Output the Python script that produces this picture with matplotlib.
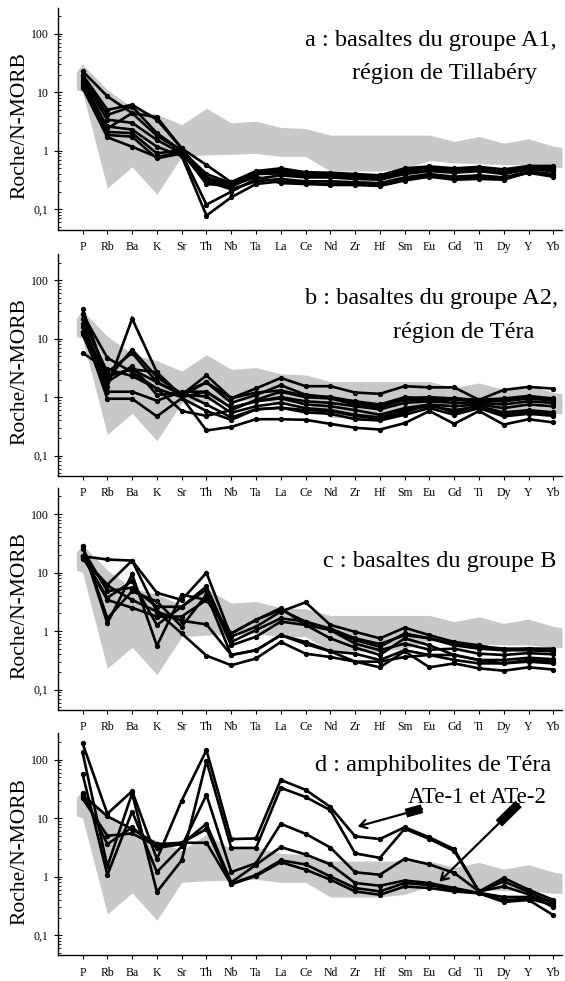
import numpy as np
import matplotlib.pyplot as plt
from matplotlib.ticker import FixedLocator, LogLocator, NullFormatter

plt.rcParams['font.family'] = ['Liberation Serif', 'DejaVu Serif']

elements = ["P", "Rb", "Ba", "K", "Sr", "Th", "Nb", "Ta", "La", "Ce",
            "Nd", "Zr", "Hf", "Sm", "Eu", "Gd", "Ti", "Dy", "Y", "Yb"]

# grey reference field, same on every panel
field_upper = [30, 11, 5.5, 4.2, 2.8, 5.3, 3.0, 3.2, 2.5, 2.4,
               1.85, 1.85, 1.85, 1.85, 1.85, 1.45, 1.75, 1.35, 1.6, 1.2]
field_lower = [10, 0.23, 0.53, 0.18, 0.8, 0.85, 0.87, 0.9, 0.8, 0.8,
               0.45, 0.45, 0.45, 0.5, 0.68, 0.62, 0.6, 0.58, 0.58, 0.52]

# a : groupe A1, Tillabéry
group_a1 = [
    [23, 8.5, 4.4, 3.75, 1.1, 0.57, 0.29, 0.45, 0.5, 0.43, 0.42, 0.4, 0.38, 0.5, 0.54, 0.5, 0.53, 0.48, 0.55, 0.55],
    [20, 5.0, 6.1, 3.4, 1.1, 0.33, 0.24, 0.41, 0.46, 0.42, 0.4, 0.38, 0.37, 0.47, 0.5, 0.48, 0.5, 0.47, 0.53, 0.52],
    [18, 4.1, 5.7, 2.0, 1.0, 0.29, 0.29, 0.43, 0.45, 0.4, 0.38, 0.37, 0.36, 0.45, 0.5, 0.47, 0.5, 0.45, 0.52, 0.5],
    [16, 3.4, 3.0, 1.53, 0.9, 0.12, 0.2, 0.33, 0.38, 0.35, 0.35, 0.33, 0.32, 0.4, 0.45, 0.42, 0.45, 0.4, 0.48, 0.45],
    [14, 2.6, 2.3, 1.17, 0.81, 0.078, 0.16, 0.27, 0.3, 0.28, 0.27, 0.27, 0.26, 0.33, 0.37, 0.33, 0.36, 0.33, 0.42, 0.36],
    [13, 2.1, 2.0, 0.9, 1.03, 0.35, 0.27, 0.4, 0.41, 0.37, 0.36, 0.34, 0.33, 0.42, 0.46, 0.44, 0.46, 0.42, 0.5, 0.47],
    [12.5, 1.86, 1.74, 0.74, 0.9, 0.3, 0.22, 0.3, 0.33, 0.3, 0.3, 0.29, 0.28, 0.35, 0.4, 0.36, 0.38, 0.35, 0.44, 0.4],
    [12, 1.7, 1.17, 0.78, 0.95, 0.27, 0.25, 0.36, 0.28, 0.27, 0.26, 0.26, 0.25, 0.31, 0.36, 0.32, 0.33, 0.32, 0.43, 0.38],
    [15, 2.4, 4.4, 1.8, 1.0, 0.4, 0.28, 0.42, 0.43, 0.4, 0.39, 0.36, 0.35, 0.44, 0.48, 0.45, 0.48, 0.44, 0.5, 0.48],
]

# b : groupe A2, Téra
group_a2 = [
    [26, 2.3, 3.0, 1.8, 1.1, 2.35, 0.96, 1.41, 2.13, 1.54, 1.54, 1.2, 1.14, 1.54, 1.47, 1.47, 0.9, 1.33, 1.5, 1.4],
    [5.7, 3.0, 2.3, 1.4, 1.0, 0.27, 0.31, 0.42, 0.42, 0.41, 0.35, 0.3, 0.28, 0.36, 0.58, 0.35, 0.58, 0.34, 0.42, 0.37],
    [13, 1.5, 22, 2.66, 1.0, 1.24, 0.66, 0.85, 0.96, 0.75, 0.7, 0.6, 0.5, 0.65, 0.75, 0.7, 0.75, 0.65, 0.75, 0.7],
    [31.8, 2.07, 6.5, 2.2, 1.15, 1.8, 0.8, 1.09, 1.6, 1.1, 1.0, 0.85, 0.75, 1.0, 0.95, 0.95, 0.9, 0.95, 1.05, 0.95],
    [21.7, 2.66, 5.7, 1.8, 1.1, 1.03, 0.54, 0.7, 0.8, 0.65, 0.6, 0.5, 0.45, 0.6, 0.7, 0.6, 0.7, 0.55, 0.6, 0.55],
    [18, 1.82, 3.4, 1.09, 1.2, 0.75, 0.45, 0.62, 0.66, 0.55, 0.52, 0.42, 0.4, 0.5, 0.65, 0.5, 0.65, 0.47, 0.52, 0.48],
    [15.8, 0.94, 0.94, 0.47, 0.96, 0.58, 0.41, 0.62, 0.66, 0.6, 0.58, 0.48, 0.42, 0.55, 0.75, 0.55, 0.7, 0.5, 0.55, 0.5],
    [12, 1.24, 1.24, 0.87, 1.24, 1.24, 0.66, 0.85, 1.0, 0.85, 0.8, 0.7, 0.62, 0.8, 0.85, 0.8, 0.8, 0.75, 0.85, 0.8],
    [26.3, 4.7, 2.66, 1.4, 0.58, 0.48, 0.6, 0.9, 1.24, 1.0, 0.95, 0.75, 0.68, 0.9, 0.9, 0.9, 0.85, 0.85, 0.95, 0.88],
    [13, 2.3, 3.0, 2.66, 1.05, 1.8, 0.96, 1.2, 1.3, 1.05, 1.0, 0.8, 0.72, 0.95, 1.0, 0.95, 0.88, 0.9, 1.0, 0.9],
]

# c : groupe B
group_b = [
    [19, 16.7, 16, 2.15, 1.5, 1.3, 0.39, 0.47, 0.85, 0.6, 0.45, 0.3, 0.24, 0.45, 0.24, 0.28, 0.23, 0.21, 0.24, 0.22],
    [28.5, 1.36, 9.3, 0.56, 4.2, 3.4, 0.91, 1.55, 2.46, 1.27, 0.75, 0.52, 0.39, 0.75, 0.57, 0.39, 0.32, 0.28, 0.32, 0.3],
    [17.9, 6.2, 16, 4.5, 3.4, 9.9, 0.8, 1.19, 2.15, 3.1, 1.27, 0.97, 0.75, 1.14, 0.85, 0.65, 0.57, 0.47, 0.5, 0.5],
    [25, 4.8, 5.5, 2.6, 2.6, 5.8, 0.65, 1.04, 1.65, 1.45, 1.04, 0.7, 0.54, 0.91, 0.75, 0.57, 0.5, 0.47, 0.47, 0.45],
    [19, 3.7, 7.1, 1.27, 2.6, 5.1, 0.57, 0.8, 1.45, 1.27, 1.04, 0.61, 0.47, 0.61, 0.48, 0.5, 0.41, 0.39, 0.42, 0.4],
    [28.5, 1.65, 4.8, 3.2, 1.19, 4.2, 0.39, 0.47, 0.85, 0.65, 0.45, 0.41, 0.32, 0.47, 0.39, 0.39, 0.32, 0.32, 0.35, 0.33],
    [19, 3.4, 2.5, 1.77, 1.77, 3.4, 0.91, 1.55, 2.3, 1.45, 1.1, 0.75, 0.6, 0.85, 0.75, 0.6, 0.55, 0.5, 0.5, 0.48],
    [17, 6.0, 3.4, 2.15, 0.91, 0.38, 0.26, 0.34, 0.65, 0.41, 0.36, 0.3, 0.3, 0.36, 0.39, 0.32, 0.28, 0.28, 0.3, 0.28],
]

# d : amphibolites de Téra (the first two are ATe-1 and ATe-2)
amphibolites = [
    [190, 11.9, 29, 2.0, 20, 145, 4.4, 4.5, 45, 30.5, 15.6, 4.9, 4.4, 7.0, 4.7, 2.95, 0.56, 0.95, 0.6, 0.4],
    [133, 1.5, 26.5, 0.55, 1.9, 95, 3.1, 3.1, 33, 23, 13.7, 2.5, 2.1, 6.6, 4.4, 2.75, 0.56, 0.83, 0.55, 0.35],
    [57, 1.07, 13, 1.2, 3.3, 25, 1.2, 1.7, 8, 5.4, 3.15, 1.19, 1.08, 2.03, 1.62, 1.16, 0.56, 0.68, 0.5, 0.3],
    [26.5, 3.6, 7, 3.1, 3.6, 8, 0.8, 1.6, 3.2, 2.4, 1.62, 0.78, 0.7, 0.86, 0.78, 0.64, 0.53, 0.45, 0.45, 0.38],
    [24.8, 10.8, 6.5, 3.6, 3.8, 6.5, 0.76, 1.07, 1.9, 1.62, 1.01, 0.64, 0.56, 0.78, 0.72, 0.6, 0.52, 0.37, 0.4, 0.22],
    [21.7, 5, 5.5, 3.3, 3.8, 3.8, 0.74, 1.03, 1.77, 1.32, 0.89, 0.56, 0.49, 0.68, 0.64, 0.56, 0.52, 0.4, 0.42, 0.33],
]

panels = [group_a1, group_a2, group_b, amphibolites]
bottoms = [0.766, 0.5148, 0.2764, 0.026]

W, H = 565, 981
fig = plt.figure(figsize=(W / 100, H / 100), dpi=100)

x = np.arange(len(elements))
# field drawn a little past the first and last element
xf = np.r_[-0.25, x, 19.35]
up = np.r_[field_upper[0] * 0.75, field_upper, field_upper[-1] * 0.95]
lo = np.r_[field_lower[0] * 1.1, field_lower, field_lower[-1]]

axes = []
for samples, b in zip(panels, bottoms):
    ax = fig.add_axes([58.3 / W, b, 503.7 / W, 222 / H])
    ax.patch.set_visible(False)
    ax.fill_between(xf, lo, up, color='#c8c8c8', lw=0, zorder=1)
    for s in samples:
        ax.plot(x, s, color='black', lw=1.9, marker='o', ms=2.8,
                solid_joinstyle='miter', zorder=3)

    ax.set_yscale('log')
    ax.set_ylim(0.045, 280)
    ax.set_xlim(-0.98, 19.35)
    for side in ['top', 'right']:
        ax.spines[side].set_visible(False)
    ax.spines['left'].set_linewidth(1.0)
    ax.spines['bottom'].set_linewidth(1.0)

    ax.set_xticks(x)
    ax.set_xticklabels(elements, fontsize=8.5)
    ax.tick_params(axis='x', direction='out', length=3, width=0.8, pad=5)

    ax.yaxis.set_major_locator(FixedLocator([0.1, 1, 10, 100]))
    ax.set_yticklabels(['0,1', '1', '10', '100'], fontsize=8.5)
    ax.yaxis.set_minor_locator(LogLocator(base=10, subs=np.arange(2, 10)))
    ax.yaxis.set_minor_formatter(NullFormatter())
    ax.tick_params(axis='y', which='major', direction='inout', length=6, width=0.8, pad=4)
    ax.tick_params(axis='y', which='minor', direction='in', length=2.5, width=0.6)

    ax.set_ylabel('Roche/N-MORB', fontsize=15.5)
    ax.yaxis.set_label_coords(-0.058, 0.47)
    axes.append(ax)


def put(px, py, txt, size=17.5):
    fig.text(px / W, 1 - py / H, txt, fontsize=size, ha='left', va='baseline')


put(305, 46, 'a : basaltes du groupe A1,')
put(352, 79, 'région de Tillabéry')
put(305, 304, 'b : basaltes du groupe A2,')
put(393, 338, 'région de Téra')
put(323, 567, 'c : basaltes du groupe B')
put(315, 771, 'd : amphibolites de Téra')
put(408, 803, 'ATe-1 et ATe-2', size=16.5)

# arrows pointing to ATe-1 and ATe-2
axd = axes[3]
arrows = [((11.1, 7.2), (13.7, 14.5)), ((14.4, 0.82), (17.6, 17.5))]
for head, tail in arrows:
    axd.annotate('', xy=head, xytext=tail,
                 arrowprops=dict(arrowstyle='->,head_length=0.5,head_width=0.3',
                                 lw=1.6, color='black', shrinkA=0, shrinkB=0))
    # feathered tail: short thick stub at the tail end
    fx = tail[0] + (head[0] - tail[0]) * 0.25
    fy = 10 ** (np.log10(tail[1]) + (np.log10(head[1]) - np.log10(tail[1])) * 0.25)
    axd.plot([tail[0], fx], [tail[1], fy], color='black', lw=6.5,
             solid_capstyle='butt', zorder=4)

fig.savefig('out.png', dpi=100)
